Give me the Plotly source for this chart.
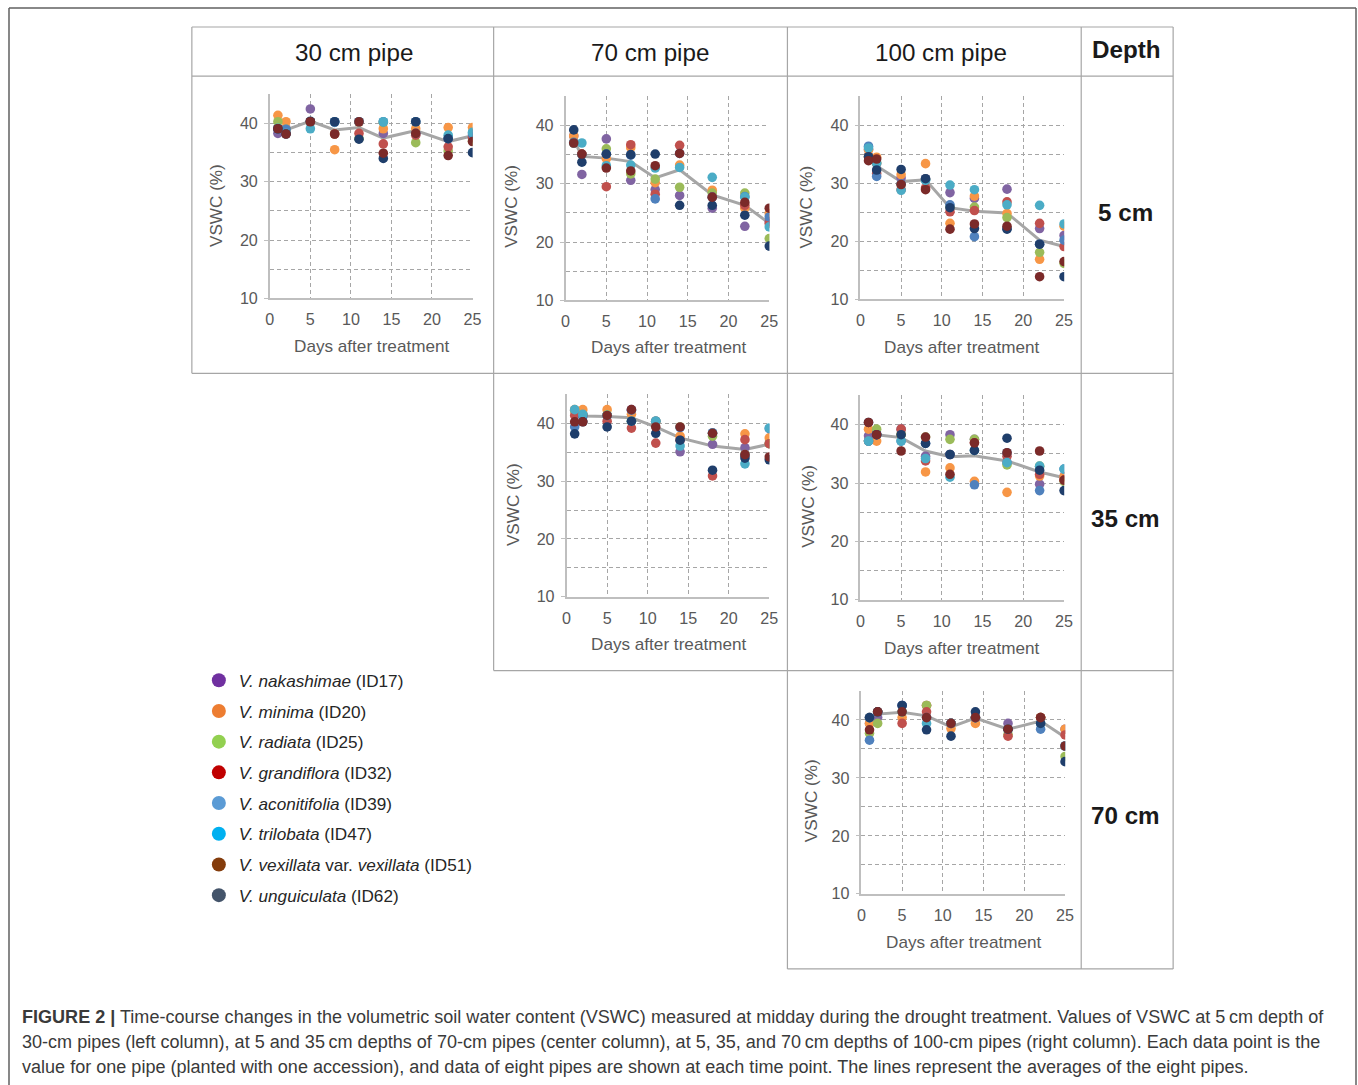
import plotly.graph_objects as go

# reference canvas (pixel positions below are measured on a 1358x1085 image)
REF_W, REF_H = 1358, 1085
K = 1.009                      # render compensation factor
W, H = round(REF_W * K), round(REF_H * K)
FONT = "Liberation Sans, Arial, sans-serif"

# ---------------- data ----------------
days = [1, 2, 5, 8, 11, 14, 18, 22, 25]

species = ["V. nakashimae", "V. minima", "V. radiata", "V. grandiflora",
           "V. aconitifolia", "V. trilobata", "V. vexillata", "V. unguiculata"]
accession_ids = ["ID17", "ID20", "ID25", "ID32", "ID39", "ID47", "ID51", "ID62"]

point_colors = ["#8064A2", "#F79646", "#9BBB59", "#C0504D",
                "#4F81BD", "#4BACC6", "#7B2A29", "#1F3E6B"]
legend_colors = ["#7030A0", "#ED7D31", "#92D050", "#C00000",
                 "#5B9BD5", "#00B0F0", "#843C0C", "#44546A"]

col_headers = ["30 cm pipe", "70 cm pipe", "100 cm pipe"]
row_headers = ["5 cm", "35 cm", "70 cm"]

x_ticks = [0, 5, 10, 15, 20, 25]
y_ticks = [10, 20, 30, 40]
y_minor = [15, 25, 35, 45]

# VSWC (%) per accession (order as species list), values by day
vswc_30cm_5cm = [
    [38.3, 39.1, 42.5, 40.3, 40.3, 38.3, 40.3, 37.4, 37.5],
    [41.4, 40.3, 40.3, 35.5, 40.2, 39.1, 39.1, 39.3, 39.3],
    [40.3, 39.0, 40.2, 38.2, 37.4, 40.2, 36.7, 35.3, 37.0],
    [39.1, 38.3, 40.3, 38.2, 38.3, 36.5, 38.0, 36.0, 37.7],
    [39.0, 39.0, 40.3, 40.2, 40.3, 40.3, 38.3, 37.4, 38.2],
    [39.2, 38.3, 39.1, 40.3, 40.3, 40.3, 40.3, 38.0, 38.5],
    [39.1, 38.2, 40.3, 38.2, 40.3, 34.9, 38.3, 34.5, 36.9],
    [39.1, 38.2, 40.4, 40.3, 37.3, 34.0, 40.3, 37.4, 35.0],
]
mean_30cm_5cm = [39.3, 38.9, 40.4, 38.9, 39.3, 37.5, 38.8, 36.9, 37.9]

vswc_70cm_5cm = [
    [38.2, 31.6, 37.7, 30.6, 29.0, 28.0, 25.8, 22.7, 23.5],
    [38.2, 35.1, 34.3, 36.2, 30.2, 33.2, 28.9, 25.8, 24.9],
    [37.0, 35.0, 36.0, 31.7, 30.8, 29.4, 28.4, 28.4, 20.6],
    [37.0, 35.1, 29.5, 36.7, 28.2, 36.6, 27.7, 26.3, 23.2],
    [37.1, 35.0, 35.1, 34.9, 27.4, 35.2, 27.7, 27.8, 24.3],
    [37.0, 37.0, 33.1, 33.2, 32.7, 32.8, 31.1, 27.7, 22.6],
    [37.0, 35.1, 32.7, 32.2, 33.1, 35.2, 27.7, 26.8, 25.8],
    [39.25, 33.7, 35.1, 35.0, 35.1, 26.3, 26.3, 24.6, 19.3],
]
mean_70cm_5cm = [37.6, 34.7, 34.4, 33.8, 31.0, 32.4, 28.1, 26.3, 23.2]

vswc_100cm_5cm = [
    [35.8, 33.4, 30.9, 30.8, 28.4, 27.4, 29.0, 22.2, 21.0],
    [35.8, 34.5, 31.5, 33.4, 23.1, 27.8, 24.8, 16.9, 22.6],
    [34.6, 33.5, 29.8, 30.7, 25.9, 25.9, 24.1, 18.1, 16.2],
    [34.6, 31.7, 28.9, 29.2, 25.1, 25.3, 26.8, 23.1, 19.1],
    [36.4, 31.2, 29.9, 30.6, 26.3, 20.8, 22.2, 19.5, 20.2],
    [36.1, 33.5, 28.8, 30.5, 29.7, 28.9, 26.3, 26.2, 23.0],
    [33.9, 34.2, 29.8, 28.9, 22.1, 23.0, 22.6, 13.9, 16.5],
    [34.6, 32.3, 32.4, 30.8, 25.8, 22.2, 22.1, 19.5, 13.9],
]
mean_100cm_5cm = [34.9, 33.0, 30.3, 30.6, 25.8, 25.2, 24.9, 20.2, 19.1]

vswc_70cm_35cm = [
    [42.3, 41.6, 41.4, 42.4, 40.4, 35.1, 36.4, 35.8, 36.5],
    [42.4, 42.4, 42.4, 41.6, 40.3, 37.8, 38.3, 38.2, 37.5],
    [42.2, 41.5, 41.5, 40.4, 40.4, 39.4, 37.8, 34.6, 36.5],
    [41.4, 41.4, 40.4, 39.2, 36.6, 37.1, 30.9, 37.2, 36.5],
    [39.4, 41.2, 41.4, 42.3, 40.4, 39.3, 38.4, 34.5, 39.1],
    [42.4, 41.6, 41.4, 40.4, 40.4, 36.1, 38.3, 33.0, 39.2],
    [40.3, 40.3, 41.4, 42.4, 39.4, 39.4, 38.3, 34.6, 34.2],
    [38.2, 40.3, 39.4, 40.4, 38.3, 37.1, 31.9, 34.0, 33.7],
]
mean_70cm_35cm = [41.4, 41.3, 41.2, 41.0, 39.4, 37.5, 36.1, 35.5, 36.4]

vswc_100cm_35cm = [
    [38.1, 38.3, 39.25, 34.6, 38.3, 37.5, 33.5, 29.8, 31.1],
    [39.25, 37.2, 38.3, 31.9, 32.6, 30.3, 28.4, 31.2, 31.1],
    [37.2, 39.25, 38.3, 37.9, 37.5, 37.5, 33.1, 32.9, 30.3],
    [37.2, 38.3, 39.25, 33.8, 34.9, 36.9, 34.6, 31.5, 30.5],
    [37.2, 38.3, 37.2, 36.8, 34.9, 29.7, 35.2, 28.7, 32.4],
    [37.2, 38.3, 37.2, 34.2, 31.0, 35.6, 33.5, 32.9, 32.4],
    [40.4, 38.3, 35.5, 37.9, 31.5, 36.9, 35.2, 35.5, 30.5],
    [40.4, 38.3, 38.3, 36.8, 34.9, 35.6, 37.7, 32.2, 28.7],
]
mean_100cm_35cm = [38.4, 38.3, 37.8, 35.5, 34.5, 34.7, 33.8, 31.9, 30.9]

vswc_100cm_70cm = [
    [39.4, 40.4, 42.5, 42.5, 39.4, 40.4, 39.4, 40.4, 38.4],
    [39.4, 41.4, 40.4, 42.5, 38.5, 39.4, 38.4, 40.4, 38.4],
    [37.7, 39.4, 41.4, 42.5, 39.4, 40.4, 37.5, 40.4, 33.7],
    [40.4, 41.4, 39.4, 41.4, 39.4, 40.4, 37.2, 40.4, 37.4],
    [36.5, 41.3, 42.5, 40.4, 39.4, 40.4, 38.4, 38.4, 35.5],
    [40.4, 41.4, 41.4, 39.4, 39.4, 40.4, 38.4, 39.4, 35.5],
    [38.3, 41.4, 41.4, 40.4, 39.4, 40.4, 38.4, 40.4, 35.5],
    [40.4, 41.4, 42.5, 38.3, 37.2, 41.4, 38.4, 39.4, 32.8],
]
mean_100cm_70cm = [38.9, 41.0, 41.3, 40.7, 38.8, 40.3, 38.4, 39.8, 37.0]

caption_lines = [
    "<b>FIGURE 2 |</b> Time-course changes in the volumetric soil water content (VSWC) measured at midday during the drought treatment. Values of VSWC at 5\u2009cm depth of",
    "30-cm pipes (left column), at 5 and 35\u2009cm depths of 70-cm pipes (center column), at 5, 35, and 70\u2009cm depths of 100-cm pipes (right column). Each data point is the",
    "value for one pipe (planted with one accession), and data of eight pipes are shown at each time point. The lines represent the averages of the eight pipes.",
]

# ---------------- layout helpers (reference pixel -> paper) ----------------
X_SHIFT = 3.0


def px(x):
    return (x - X_SHIFT) / REF_W


def py(y):
    return 1 - y / REF_H


def fs(s):
    return s * K


# panel geometry: plot-area px box, y-title centre, x-title centre
panels = [
    (vswc_30cm_5cm, mean_30cm_5cm, (269, 472, 94, 298), (215, 205), (371, 346)),
    (vswc_70cm_5cm, mean_70cm_5cm, (565, 769, 96, 300), (511, 206), (668, 347)),
    (vswc_100cm_5cm, mean_100cm_5cm, (860, 1064, 96, 299), (806, 207), (962, 347)),
    (vswc_70cm_35cm, mean_70cm_35cm, (566, 769, 394, 596), (513, 504), (668, 643)),
    (vswc_100cm_35cm, mean_100cm_35cm, (860, 1064, 395, 599), (808, 506), (962, 647)),
    (vswc_100cm_70cm, mean_100cm_70cm, (861, 1065, 690, 893), (810, 800), (964, 941)),
]

draw_order = [0, 1, 2, 3, 4, 5, 7, 6]  # maroon drawn on top

GRID = "#A6A6A6"
AXLINE = "#BFBFBF"
TICKC = "#595959"

fig = go.Figure()
layout = dict(
    width=W, height=H,
    margin=dict(l=0, r=0, t=0, b=0),
    paper_bgcolor="white", plot_bgcolor="white",
    font=dict(family=FONT, color=TICKC),
    showlegend=True,
    annotations=[], shapes=[],
)

for i, (series, mean, (x0, x1, yt, yb), (ytx, yty), (xtx, xty)) in enumerate(panels, start=1):
    xa = "x" if i == 1 else f"x{i}"
    ya = "y" if i == 1 else f"y{i}"
    fig.add_trace(go.Scatter(x=days, y=mean, mode="lines", xaxis=xa, yaxis=ya,
                             line=dict(color="#A6A6A6", width=3),
                             showlegend=False, hoverinfo="skip"))
    for k in draw_order:
        fig.add_trace(go.Scatter(x=days, y=series[k], mode="markers", xaxis=xa, yaxis=ya,
                                 marker=dict(size=fs(9.5), color=point_colors[k], line=dict(width=0)),
                                 name=f"{species[k]} ({accession_ids[k]})", showlegend=False))
    layout["xaxis" if i == 1 else f"xaxis{i}"] = dict(
        domain=[px(x0), px(x1)], anchor=ya, range=[0, 25.02],
        tickvals=x_ticks, showgrid=True, gridcolor=GRID, gridwidth=1, griddash="4px,3px",
        showline=True, linecolor=AXLINE, linewidth=1.5, zeroline=False,
        ticks="", ticklabelstandoff=6, tickfont=dict(size=fs(16), color=TICKC, family=FONT),
        fixedrange=True,
    )
    layout["yaxis" if i == 1 else f"yaxis{i}"] = dict(
        domain=[py(yb), py(yt)], anchor=xa, range=[10, 45.05],
        tickvals=y_ticks, showgrid=True, gridcolor=GRID, gridwidth=1, griddash="4px,3px",
        minor=dict(tickvals=y_minor, showgrid=True, gridcolor=GRID, gridwidth=1,
                   griddash="4px,3px", ticks=""),
        showline=True, linecolor=AXLINE, linewidth=1.5, zeroline=False,
        ticks="outside", ticklen=4, tickcolor=AXLINE, tickwidth=1,
        ticklabelstandoff=3, tickfont=dict(size=fs(16), color=TICKC, family=FONT),
        fixedrange=True,
    )
    layout["annotations"].append(dict(
        x=px(ytx), y=py(yty), xref="paper", yref="paper", text="VSWC (%)", textangle=-90,
        showarrow=False, xanchor="center", yanchor="middle",
        font=dict(size=fs(17), color=TICKC, family=FONT)))
    layout["annotations"].append(dict(
        x=px(xtx), y=py(xty), xref="paper", yref="paper", text="Days after treatment",
        showarrow=False, xanchor="center", yanchor="middle",
        font=dict(size=fs(17), color=TICKC, family=FONT)))

# legend entries (legend colours differ slightly from the plotted dots in the original)
for k in range(8):
    sp = species[k]
    if k == 6:
        label = f"<i>{sp}</i> var. <i>vexillata</i> ({accession_ids[k]})"
    else:
        label = f"<i>{sp}</i> ({accession_ids[k]})"
    fig.add_trace(go.Scatter(x=[None], y=[None], mode="markers",
                             marker=dict(size=14, color=legend_colors[k]),
                             name=label, legendgroup=f"g{k}", showlegend=True))

layout["legend"] = dict(
    x=px(198), y=py(662), xanchor="left", yanchor="top",
    font=dict(size=fs(17), color="#262626", family=FONT),
    bgcolor="rgba(0,0,0,0)", tracegroupgap=5.4, itemsizing="trace",
    traceorder="grouped",
)

# column / row headers
col_centres = [353, 649, 941]
for t, cx in zip(col_headers, col_centres):
    layout["annotations"].append(dict(
        x=px(cx), y=py(52), xref="paper", yref="paper", text=t, showarrow=False,
        xanchor="center", yanchor="middle", font=dict(size=fs(24), color="#1A1A1A", family=FONT)))
layout["annotations"].append(dict(
    x=px(1126), y=py(49), xref="paper", yref="paper", text="<b>Depth</b>", showarrow=False,
    xanchor="center", yanchor="middle", font=dict(size=fs(24), color="#1A1A1A", family=FONT)))
for t, cy in zip(row_headers, [212, 518, 815]):
    layout["annotations"].append(dict(
        x=px(1125), y=py(cy), xref="paper", yref="paper", text=f"<b>{t}</b>", showarrow=False,
        xanchor="center", yanchor="middle", font=dict(size=fs(24), color="#1A1A1A", family=FONT)))

# caption
for j, line in enumerate(caption_lines):
    layout["annotations"].append(dict(
        x=px(19.5), y=py(1016 + 25 * j), xref="paper", yref="paper", text=line, showarrow=False,
        xanchor="left", yanchor="middle", align="left",
        font=dict(size=fs(17.9), color="#3A3A3A", family=FONT)))

# table lines
TABLE = "#A6A6A6"
hlines = [(27, 191, 1173), (76, 191, 1173), (373, 191, 1173), (670, 493, 1173), (968, 787, 1173)]
vlines = [(191, 27, 373), (493, 27, 670), (787, 27, 968), (1081, 27, 968), (1173, 27, 968)]
for y, xa0, xa1 in hlines:
    layout["shapes"].append(dict(type="line", xref="paper", yref="paper",
                                 x0=px(xa0), x1=px(xa1), y0=py(y), y1=py(y),
                                 line=dict(color=TABLE, width=1.2)))
for x, ya0, ya1 in vlines:
    layout["shapes"].append(dict(type="line", xref="paper", yref="paper",
                                 x0=px(x), x1=px(x), y0=py(ya0), y1=py(ya1),
                                 line=dict(color=TABLE, width=1.2)))
# outer figure frame (open at the bottom, where the page is cut)
FRAME = "#606060"
for (fx0, fy0, fx1, fy1) in [(8, 8, 1356, 8), (8, 8, 8, REF_H), (1356, 8, 1356, REF_H)]:
    layout["shapes"].append(dict(type="line", xref="paper", yref="paper",
                                 x0=px(fx0), x1=px(fx1), y0=py(fy0), y1=py(fy1),
                                 line=dict(color=FRAME, width=1.5)))

fig.update_layout(**layout)
fig.write_html("out.html", include_plotlyjs=True, config={"displayModeBar": False})
